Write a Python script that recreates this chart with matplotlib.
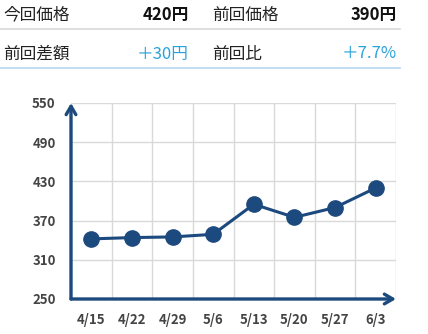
import matplotlib
matplotlib.use("Agg")
import matplotlib.pyplot as plt
from matplotlib.lines import Line2D

plt.rcParams['font.family'] = ['Noto Sans CJK JP', 'DejaVu Sans']

dates = ["4/15", "4/22", "4/29", "5/6", "5/13", "5/20", "5/27", "6/3"]
prices = [342, 344, 345, 349, 395, 375, 390, 420]
yticks = [250, 310, 370, 430, 490, 550]

summary_labels = ["今回価格", "前回価格", "前回差額", "前回比"]
summary_values = ["420円", "390円", "+30円", "+7.7%"]

navy = "#1d4a7e"
W, H = 428, 334
fig = plt.figure(figsize=(W / 100, H / 100), dpi=100)

def fx(px):
    return px / W

def fy(py):
    return 1 - py / H

fs = 12
# summary table
fig.text(fx(3), fy(15), summary_labels[0], fontsize=fs, color="#222", va="center", ha="left")
fig.text(fx(189), fy(15), summary_values[0], fontsize=fs, color="#111", va="center", ha="right", fontweight="bold")
fig.text(fx(212), fy(15), summary_labels[1], fontsize=fs, color="#222", va="center", ha="left")
fig.text(fx(397), fy(15), summary_values[1], fontsize=fs, color="#111", va="center", ha="right", fontweight="bold")
fig.text(fx(3), fy(54), summary_labels[2], fontsize=fs, color="#222", va="center", ha="left")
fig.text(fx(189), fy(54), summary_values[2].replace("+", "＋"), fontsize=fs, color="#2aa3dc", va="center", ha="right")
fig.text(fx(212), fy(54), summary_labels[3], fontsize=fs, color="#222", va="center", ha="left")
fig.text(fx(397), fy(54), summary_values[3].replace("+", "＋"), fontsize=fs, color="#2aa3dc", va="center", ha="right")
fig.add_artist(Line2D([0, fx(400)], [fy(28.5), fy(28.5)], color="#d8d8d8", lw=1.2))
fig.add_artist(Line2D([0, fx(400)], [fy(68), fy(68)], color="#b9d6ee", lw=1.2))

ax = fig.add_axes([fx(71), fy(299), fx(396) - fx(71), fy(103) - fy(299)])
n = len(dates)
xs = list(range(n))
ax.set_xlim(-0.5, n - 0.5)
ax.set_ylim(yticks[0], yticks[-1])
ax.set_xticks([i + 0.5 for i in range(-1, n)], minor=True)
ax.set_xticks(xs)
ax.set_xticklabels(dates)
ax.set_yticks(yticks)
ax.grid(True, which="minor", axis="x", color="#d9d9d9", lw=1)
ax.grid(True, which="major", axis="y", color="#d9d9d9", lw=1)
ax.set_axisbelow(True)
for s in ax.spines.values():
    s.set_visible(False)
ax.tick_params(which="both", length=0)
ax.tick_params(axis="x", pad=10, labelsize=9.5, labelcolor="#444444")
ax.tick_params(axis="y", pad=11, labelsize=9.5, labelcolor="#444444")
for lbl in ax.get_xticklabels() + ax.get_yticklabels():
    lbl.set_fontweight("bold")

ax.plot(xs, prices, color=navy, lw=2.2, marker="o", ms=11, zorder=5, clip_on=False)

# axes with arrows
ax.annotate("", xy=(0, 1.0), xytext=(0, 0), xycoords="axes fraction",
            arrowprops=dict(arrowstyle="->,head_length=0.6,head_width=0.35", color=navy, lw=2.4, shrinkA=0, shrinkB=0))
ax.annotate("", xy=(1.0, 0), xytext=(0, 0), xycoords="axes fraction",
            arrowprops=dict(arrowstyle="->,head_length=0.6,head_width=0.35", color=navy, lw=2.4, shrinkA=0, shrinkB=0))

fig.savefig("out.png", dpi=100)
